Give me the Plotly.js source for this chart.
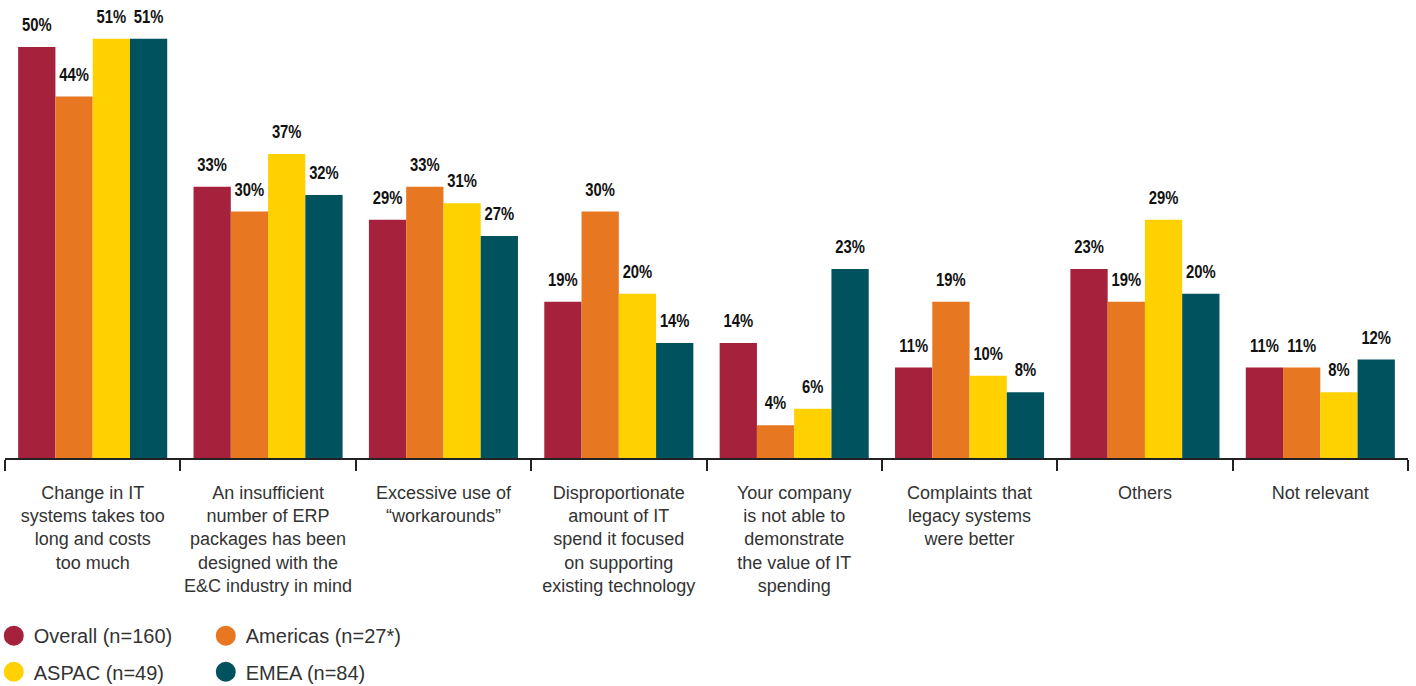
<!DOCTYPE html>
<html>
<head>
<meta charset="utf-8">
<script src="https://cdn.plot.ly/plotly-3.0.1.min.js"></script>
<style>
  html, body { margin: 0; padding: 0; background: #ffffff; }
  #chart { width: 1416px; height: 686px; }
  #chart .scatterlayer .textpoint text {
    transform-box: fill-box; transform-origin: 50% 50%; transform: scaleX(0.78);
  }
</style>
</head>
<body>
<div id="chart"></div>
<script>
const categories = [
  "Change in IT<br>systems takes too<br>long and costs<br>too much",
  "An insufficient<br>number of ERP<br>packages has been<br>designed with the<br>E&amp;C industry in mind",
  "Excessive use of<br>“workarounds”",
  "Disproportionate<br>amount of IT<br>spend it focused<br>on supporting<br>existing technology",
  "Your company<br>is not able to<br>demonstrate<br>the value of IT<br>spending",
  "Complaints that<br>legacy systems<br>were better",
  "Others",
  "Not relevant"
];
const seriesNames = ["Overall (n=160)", "Americas (n=27*)", "ASPAC (n=49)", "EMEA (n=84)"];
const overall  = [50, 33, 29, 19, 14, 11, 23, 11];
const americas = [44, 30, 33, 30, 4, 19, 19, 11];
const aspac    = [51, 37, 31, 20, 6, 10, 29, 8];
const emea     = [51, 32, 27, 14, 23, 8, 20, 12];
const seriesValues = [overall, americas, aspac, emea];
const colors = ["#A6213B", "#E87722", "#FFD100", "#00525F"];

const labelFont = {family: "'Liberation Sans', Arial, sans-serif", size: 19, color: "#111111", weight: "bold"};
const textFont = {family: "'Liberation Sans', Arial, sans-serif", size: 18, color: "#333333"};

const traces = [];
seriesValues.forEach((vals, i) => {
  traces.push({
    type: "bar", x: categories, y: vals, name: seriesNames[i],
    marker: {color: colors[i]}, showlegend: false, hoverinfo: "skip"
  });
});
seriesValues.forEach((vals, i) => {
  traces.push({
    type: "scatter", mode: "markers+text", x: categories, y: vals,
    text: vals.map(v => v + "%"), textposition: "top center",
    textfont: labelFont, marker: {size: 16, opacity: 0, color: colors[i]},
    showlegend: false, hoverinfo: "skip", cliponaxis: false
  });
});
seriesValues.forEach((vals, i) => {
  traces.push({
    type: "scatter", mode: "markers", x: [0], y: [-10], name: seriesNames[i],
    xaxis: "x2", yaxis: "y2",
    marker: {size: 16, color: colors[i], line: {color: colors[i], width: 4}},
    legend: i < 2 ? "legend" : "legend2", hoverinfo: "skip"
  });
});

const legendBase = {
  orientation: "h", xref: "paper", yref: "paper", xanchor: "left", yanchor: "middle",
  font: {family: "'Liberation Sans', Arial, sans-serif", size: 20, color: "#333333"},
  entrywidth: 167, bgcolor: "rgba(0,0,0,0)", borderwidth: 0, itemclick: false
};

const layout = {
  width: 1416, height: 686,
  margin: {l: 5, r: 8, t: 6, b: 228, autoexpand: false},
  paper_bgcolor: "#ffffff", plot_bgcolor: "#ffffff",
  barmode: "group", bargap: 0.15, bargroupgap: 0,
  scattermode: "group", scattergap: 0.15,
  showlegend: true,
  xaxis: {
    type: "category", showline: true, linecolor: "#222222", linewidth: 2,
    ticks: "outside", tickson: "boundaries", ticklen: 11, tickcolor: "#222222", tickwidth: 1.5,
    tickfont: textFont, tickangle: 0, automargin: false, showgrid: false, zeroline: false, fixedrange: true,
    ticklabelstandoff: 17
  },
  yaxis: {range: [0, 55], visible: false, fixedrange: true, automargin: false},
  xaxis2: {range: [0, 1], visible: false, overlaying: "x", fixedrange: true},
  yaxis2: {range: [0, 1], visible: false, overlaying: "y", fixedrange: true},
  legend: Object.assign({}, legendBase, {x: -0.008, y: -0.393}),
  legend2: Object.assign({}, legendBase, {x: -0.008, y: -0.473})
};

Plotly.newPlot("chart", traces, layout, {displayModeBar: false});
</script>
</body>
</html>
